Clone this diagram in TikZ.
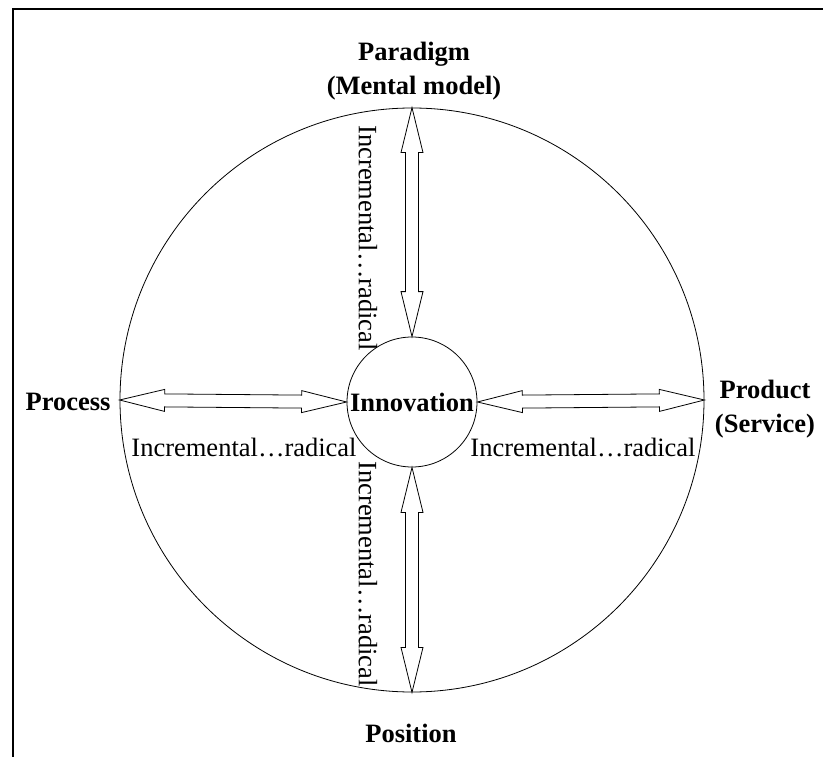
\documentclass[tikz,border=0pt]{standalone}
\usepackage{fontspec}
\setmainfont{Liberation Serif}
\usetikzlibrary{calc}

% hollow double-headed arrow between two named points
\newcommand{\hollowarrow}[2]{%
  \draw[arrowline] (#1)
    -- ($(#1)!45pt!(#2)!11pt!90:(#2)$)
    -- ($(#1)!45pt!(#2)!6.5pt!90:(#2)$)
    -- ($(#2)!45pt!(#1)!6.5pt!-90:(#1)$)
    -- ($(#2)!45pt!(#1)!11pt!-90:(#1)$)
    -- (#2)
    -- ($(#2)!45pt!(#1)!11pt!90:(#1)$)
    -- ($(#2)!45pt!(#1)!6.5pt!90:(#1)$)
    -- ($(#1)!45pt!(#2)!6.5pt!-90:(#2)$)
    -- ($(#1)!45pt!(#2)!11pt!-90:(#2)$)
    -- cycle;}

\begin{document}
\begin{tikzpicture}[x=1pt, y=-1pt,
    font=\fontsize{26.5}{34}\selectfont,
    ring/.style={circle, draw, line width=0.8pt, inner sep=0pt},
    arrowline/.style={line width=0.8pt},
    dimlabel/.style={font=\fontsize{26.5}{34}\bfseries, align=center, inner sep=0pt},
    scalelabel/.style={inner sep=0pt}]
  \useasboundingbox (0,0) rectangle (823,757);
  \draw[line width=2pt] (12.5,757) -- (12.5,9) -- (823,9);

  \node[ring, minimum size=584pt] (outer) at (412,400) {};
  \node[ring, minimum size=130pt, font=\fontsize{26.5}{34}\bfseries] (hub) at (412,402) {Innovation};

  \hollowarrow{hub.north}{outer.north}
  \hollowarrow{hub.south}{outer.south}
  \hollowarrow{hub.west}{outer.west}
  \hollowarrow{hub.east}{outer.east}

  \node[dimlabel] (paradigm) at (414,71) {Paradigm\\(Mental model)};
  \node[dimlabel] (process) at (68,402) {Process};
  \node[dimlabel] (product) at (765,409) {Product\\(Service)};
  \node[dimlabel] (position) at (411,733) {Position};

  \node[scalelabel] (scaleW) at (244,447) {Incremental…radical};
  \node[scalelabel] (scaleE) at (583,447) {Incremental…radical};
  \node[scalelabel, rotate=-90] (scaleN) at (368,238) {Incremental…radical};
  \node[scalelabel, rotate=-90] (scaleS) at (368,574) {Incremental…radical};
\end{tikzpicture}
\end{document}
